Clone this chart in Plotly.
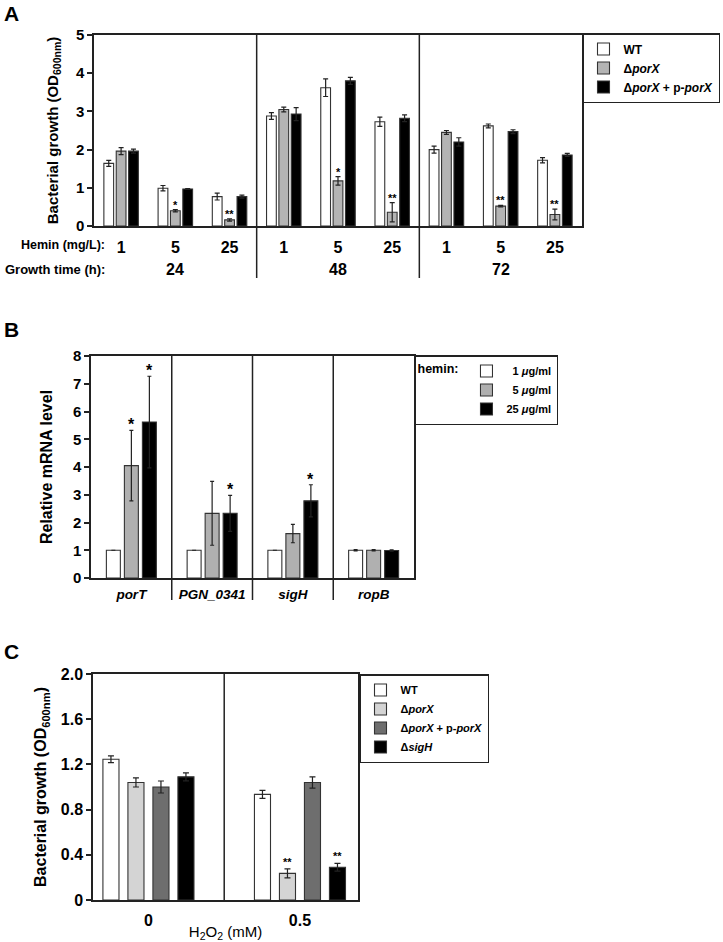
import plotly.graph_objects as go

W, H = 723, 942
FONT = "Liberation Sans, Arial, Helvetica, sans-serif"


def px_x(p):
    return p / W


def px_y(p):
    return 1 - p / H


# ---------------- Panel A data ----------------
a_hemin = ["1", "5", "25", "1", "5", "25", "1", "5", "25"]
a_time = ["24", "48", "72"]
a_series = ["WT", "Δ<i>porX</i>", "Δ<i>porX</i> + p-<i>porX</i>"]
a_wt = [1.64, 0.99, 0.77, 2.88, 3.62, 2.73, 2.00, 2.62, 1.72]
a_wt_err = [0.08, 0.07, 0.09, 0.09, 0.23, 0.12, 0.09, 0.05, 0.07]
a_ko = [1.96, 0.40, 0.16, 3.05, 1.18, 0.36, 2.45, 0.52, 0.30]
a_ko_err = [0.09, 0.03, 0.03, 0.06, 0.11, 0.25, 0.05, 0.02, 0.14]
a_comp = [1.96, 0.97, 0.77, 2.93, 3.80, 2.82, 2.20, 2.47, 1.86]
a_comp_err = [0.05, 0.01, 0.04, 0.17, 0.09, 0.09, 0.11, 0.05, 0.04]
a_ko_sig = ["", "*", "**", "", "*", "**", "", "**", "**"]

# ---------------- Panel B data ----------------
b_genes = ["porT", "PGN_0341", "sigH", "ropB"]
b_series = ["\u20071 <i>μ</i>g/ml", "\u20075 <i>μ</i>g/ml", "25 <i>μ</i>g/ml"]
b_h1 = [1.0, 1.0, 1.0, 1.0]
b_h1_err = [0.0, 0.0, 0.0, 0.02]
b_h5 = [4.05, 2.33, 1.60, 1.00]
b_h5_err = [1.27, 1.15, 0.33, 0.02]
b_h25 = [5.62, 2.33, 2.78, 0.99]
b_h25_err = [1.65, 0.65, 0.58, 0.02]
b_h5_sig = ["*", "", "", ""]
b_h25_sig = ["*", "*", "*", ""]

# ---------------- Panel C data ----------------
c_h2o2 = ["0", "0.5"]
c_series = ["WT", "Δ<i>porX</i>", "Δ<i>porX</i> + p-<i>porX</i>", "Δ<i>sigH</i>"]
c_wt = [1.245, 0.935]
c_wt_err = [0.03, 0.035]
c_ko = [1.04, 0.236]
c_ko_err = [0.04, 0.04]
c_comp = [1.00, 1.04]
c_comp_err = [0.053, 0.05]
c_sig = [1.09, 0.29]
c_sig_err = [0.035, 0.035]
c_ko_sig = ["", "**"]
c_sigH_sig = ["", "**"]
c_yticks = [0, 0.4, 0.8, 1.2, 1.6, 2.0]
c_yticktext = ["0", "0.4", "0.8", "1.2", "1.6", "2.0"]

fig = go.Figure()
annotations = []
shapes = []

LINE = "#222222"


def add_panel(xs, series, vals, errs, colors, slot, width, xa, ya, legend, capw, sigs, sig_size, sig_shift):
    n = len(series)
    for i, (name, v, e, c) in enumerate(zip(series, vals, errs, colors)):
        center = (i - (n - 1) / 2) * slot
        fig.add_trace(go.Bar(
            x=xs, y=v, name=name, width=width, offset=center - width / 2,
            marker=dict(color=c, line=dict(color="#333333", width=1.1)),
            error_y=dict(type="data", array=e, color="#222222", thickness=1.2, width=capw),
            xaxis=xa, yaxis=ya, legend=legend,
        ))
        if sigs[i] is not None:
            for j, s in enumerate(sigs[i]):
                if s:
                    annotations.append(dict(
                        x=xs[j] + center, y=v[j] + e[j], xref=xa, yref=ya,
                        text=s, showarrow=False, yanchor="bottom", yshift=sig_shift,
                        font=dict(family=FONT, size=sig_size, color="black", weight="bold"),
                    ))


# Panel A
a_x = list(range(len(a_hemin)))
add_panel(a_x, a_series, [a_wt, a_ko, a_comp], [a_wt_err, a_ko_err, a_comp_err],
          ["white", "#b4b4b4", "black"], 0.228, 0.18, "x", "y", "legend", 2.5,
          [None, a_ko_sig, None], 11, -3)

# Panel B
b_x = list(range(len(b_genes)))
add_panel(b_x, b_series, [b_h1, b_h5, b_h25], [b_h1_err, b_h5_err, b_h25_err],
          ["white", "#b0b0b0", "black"], 0.223, 0.173, "x2", "y2", "legend2", 2,
          [None, b_h5_sig, b_h25_sig], 16, -5)

# Panel C
c_x = list(range(len(c_h2o2)))
add_panel(c_x, c_series, [c_wt, c_ko, c_comp, c_sig], [c_wt_err, c_ko_err, c_comp_err, c_sig_err],
          ["white", "#d4d4d4", "#6e6e6e", "black"], 0.165, 0.106, "x3", "y3", "legend3", 3,
          [None, c_ko_sig, None, c_sigH_sig], 11, -1)

tickfont = dict(family=FONT, size=15, color="black", weight="bold")
common_ax = dict(showline=True, mirror=True, linecolor=LINE, linewidth=1.5,
                 showgrid=False, zeroline=False, fixedrange=True, automargin=False)

A_dom_x = [px_x(94), px_x(582)]
A_dom_y = [px_y(226), px_y(35)]
B_dom_x = [px_x(91), px_x(414)]
B_dom_y = [px_y(578), px_y(356)]
C_dom_x = [px_x(93), px_x(358)]
C_dom_y = [px_y(900), px_y(674)]

fig.update_layout(
    template="none",
    width=W, height=H, margin=dict(l=0, r=0, t=0, b=0, autoexpand=False),
    paper_bgcolor="white", plot_bgcolor="white",
    barmode="overlay",
    font=dict(family=FONT, color="black"),
    xaxis=dict(domain=A_dom_x, range=[-0.5, len(a_hemin) - 0.5], anchor="y",
               tickvals=a_x, ticktext=a_hemin, ticks="",
               tickfont=dict(family=FONT, size=16, color="black", weight="bold"),
               ticklabelstandoff=6, **common_ax),
    yaxis=dict(domain=A_dom_y, range=[0, 5], dtick=1, anchor="x", ticks="outside",
               ticklen=5, tickcolor=LINE, tickwidth=1.5, tickfont=tickfont,
               title=dict(text="Bacterial growth (OD<sub>600nm</sub>)",
                          font=dict(family=FONT, size=15, color="black", weight="bold"),
                          standoff=14),
               **common_ax),
    xaxis2=dict(domain=B_dom_x, range=[-0.5, len(b_genes) - 0.5], anchor="y2",
                tickvals=b_x, ticktext=["<i>%s</i>" % g for g in b_genes], ticks="",
                tickfont=dict(family=FONT, size=13.5, color="black", weight="bold"),
                ticklabelstandoff=3, **common_ax),
    yaxis2=dict(domain=B_dom_y, range=[0, 8], dtick=1, anchor="x2", ticks="outside",
                ticklen=5, tickcolor=LINE, tickwidth=1.5, tickfont=tickfont,
                title=dict(text="Relative mRNA level",
                           font=dict(family=FONT, size=16, color="black", weight="bold"),
                           standoff=16),
                **common_ax),
    xaxis3=dict(domain=C_dom_x, range=[-0.366, 1.383], anchor="y3",
                tickvals=c_x, ticktext=c_h2o2, ticks="",
                tickfont=dict(family=FONT, size=16, color="black", weight="bold"),
                ticklabelstandoff=5,
                title=dict(text="H<sub>2</sub>O<sub>2</sub> (mM)",
                           font=dict(family=FONT, size=15, color="black"), standoff=0),
                **common_ax),
    yaxis3=dict(domain=C_dom_y, range=[0, 2], tickvals=c_yticks, ticktext=c_yticktext,
                anchor="x3", ticks="outside", ticklen=5, tickcolor=LINE, tickwidth=1.5,
                tickfont=dict(family=FONT, size=16, color="black", weight="bold"),
                title=dict(text="Bacterial growth (OD<sub>600nm</sub>)",
                           font=dict(family=FONT, size=16, color="black", weight="bold"),
                           standoff=10),
                **common_ax),
    legend=dict(x=px_x(582), y=px_y(33), xanchor="left", yanchor="top",
                bordercolor=LINE, borderwidth=1.5, bgcolor="white",
                font=dict(family=FONT, size=12, color="black", weight="bold"),
                tracegroupgap=0),
    legend2=dict(x=px_x(414), y=px_y(355), xanchor="left", yanchor="top",
                 bordercolor=LINE, borderwidth=1.5, bgcolor="white",
                 title=dict(text="hemin:", side="left",
                            font=dict(family=FONT, size=12.5, color="black", weight="bold")),
                 font=dict(family=FONT, size=11, color="black", weight="bold")),
    legend3=dict(x=px_x(359), y=px_y(674), xanchor="left", yanchor="top",
                 bordercolor=LINE, borderwidth=1.5, bgcolor="white",
                 font=dict(family=FONT, size=11, color="black", weight="bold")),
)

# Separators
for k in range(1, len(a_time)):
    shapes.append(dict(type="line", xref="x", yref="paper", x0=3 * k - 0.5, x1=3 * k - 0.5,
                       y0=px_y(278), y1=A_dom_y[1], line=dict(color=LINE, width=1.5)))
for k in range(1, len(b_genes)):
    shapes.append(dict(type="line", xref="x2", yref="paper", x0=k - 0.5, x1=k - 0.5,
                       y0=px_y(600), y1=B_dom_y[1], line=dict(color=LINE, width=1.5)))
shapes.append(dict(type="line", xref="x3", yref="y3", x0=0.5, x1=0.5, y0=0, y1=2,
                   line=dict(color=LINE, width=1.5)))

# Panel labels
for lab, yy in [("A", 14), ("B", 330), ("C", 651)]:
    annotations.append(dict(x=px_x(2), y=px_y(yy), xref="paper", yref="paper", text=lab,
                            showarrow=False, xanchor="left", yanchor="middle",
                            font=dict(family=FONT, size=21, color="black", weight="bold")))

# Panel A row labels
annotations.append(dict(x=px_x(107), y=px_y(245), xref="paper", yref="paper",
                        text="Hemin (mg/L):", showarrow=False, xanchor="right", yanchor="middle",
                        font=dict(family=FONT, size=12.5, color="black", weight="bold")))
annotations.append(dict(x=px_x(107), y=px_y(270), xref="paper", yref="paper",
                        text="Growth time (h):", showarrow=False, xanchor="right", yanchor="middle",
                        font=dict(family=FONT, size=13, color="black", weight="bold")))
for k, t in enumerate(a_time):
    annotations.append(dict(x=3 * k + 1, y=px_y(270), xref="x", yref="paper", text=t,
                            showarrow=False, xanchor="center", yanchor="middle",
                            font=dict(family=FONT, size=16, color="black", weight="bold")))

fig.update_layout(annotations=annotations, shapes=shapes)
fig.write_html("out.html", config={"displayModeBar": False},
               post_script="document.body.style.margin='0px';")
